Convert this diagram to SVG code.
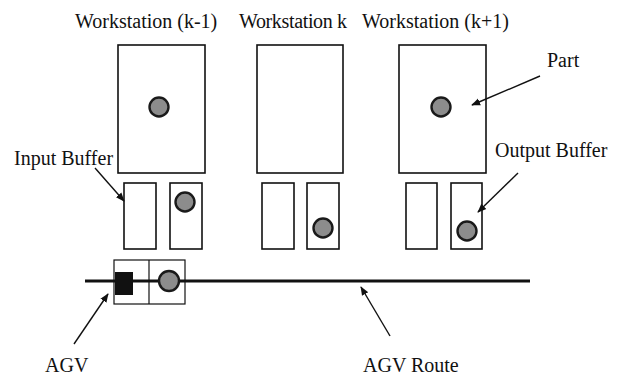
<svg xmlns="http://www.w3.org/2000/svg" width="620" height="376" viewBox="0 0 620 376">
  <style>
    .lbl { font-family: "Liberation Serif", "Times New Roman", serif; font-size: 20px; fill: #111; }
    .box { fill: #fff; stroke: #111; stroke-width: 1.6; }
    .part { fill: #8c8c8c; stroke: #1a1a1a; stroke-width: 2.4; }
    .lead { stroke: #111; stroke-width: 1.4; fill: none; marker-end: url(#head); }
  </style>
  <defs>
    <marker id="head" viewBox="0 0 10 10" refX="9" refY="5" markerWidth="9" markerHeight="9" markerUnits="userSpaceOnUse" orient="auto">
      <path d="M0,1 L10,5 L0,9 Z" fill="#111"/>
    </marker>
  </defs>
  <rect width="620" height="376" fill="#fff"/>

  <!-- station titles -->
  <text class="lbl" x="75" y="28">Workstation (k-1)</text>
  <text class="lbl" x="239" y="28" textLength="108">Workstation k</text>
  <text class="lbl" x="362" y="28">Workstation (k+1)</text>

  <g id="ws-k-1">
    <rect class="box" x="118" y="45" width="87" height="128"/>
    <circle class="part" cx="159" cy="107" r="9.5"/>
  </g>
  <g id="ws-k">
    <rect class="box" x="257" y="45" width="86" height="128"/>
  </g>
  <g id="ws-k+1">
    <rect class="box" x="399" y="45" width="87" height="128"/>
    <circle class="part" cx="441" cy="107" r="9.5"/>
  </g>

  <!-- input / output buffers -->
  <g id="in-buf-k-1"><rect class="box" x="124" y="183" width="32" height="66"/></g>
  <g id="out-buf-k-1">
    <rect class="box" x="170" y="183" width="32" height="66"/>
    <circle class="part" cx="185" cy="202" r="9.5"/>
  </g>
  <g id="in-buf-k"><rect class="box" x="262" y="183" width="32" height="66"/></g>
  <g id="out-buf-k">
    <rect class="box" x="307" y="183" width="32" height="66"/>
    <circle class="part" cx="323" cy="228" r="9.5"/>
  </g>
  <g id="in-buf-k+1"><rect class="box" x="406" y="183" width="31" height="66"/></g>
  <g id="out-buf-k+1">
    <rect class="box" x="451" y="183" width="31" height="66"/>
    <circle class="part" cx="467" cy="231" r="9.5"/>
  </g>

  <!-- route and vehicle -->
  <g id="route">
    <line x1="85" y1="281" x2="530" y2="281" stroke="#111" stroke-width="3"/>
  </g>
  <g id="agv">
    <rect x="114" y="260" width="71" height="44" fill="none" stroke="#111" stroke-width="1.2"/>
    <line x1="149" y1="260" x2="149" y2="304" stroke="#111" stroke-width="1.2"/>
    <rect x="115" y="272" width="18" height="23" fill="#111"/>
    <circle class="part" cx="169" cy="281" r="10"/>
  </g>

  <!-- callout labels -->
  <text class="lbl" x="547" y="67">Part</text>
  <text class="lbl" x="14" y="165">Input Buffer</text>
  <text class="lbl" x="495" y="157">Output Buffer</text>
  <text class="lbl" x="45" y="372">AGV</text>
  <text class="lbl" x="363" y="372">AGV Route</text>

  <g id="connectors">
    <line class="lead" x1="540" y1="76" x2="472" y2="105"/>
    <line class="lead" x1="95" y1="168" x2="124" y2="201"/>
    <line class="lead" x1="518" y1="173" x2="478" y2="212"/>
    <line class="lead" x1="74" y1="344" x2="108" y2="294"/>
    <line class="lead" x1="390" y1="336" x2="361" y2="287"/>
  </g>
</svg>
